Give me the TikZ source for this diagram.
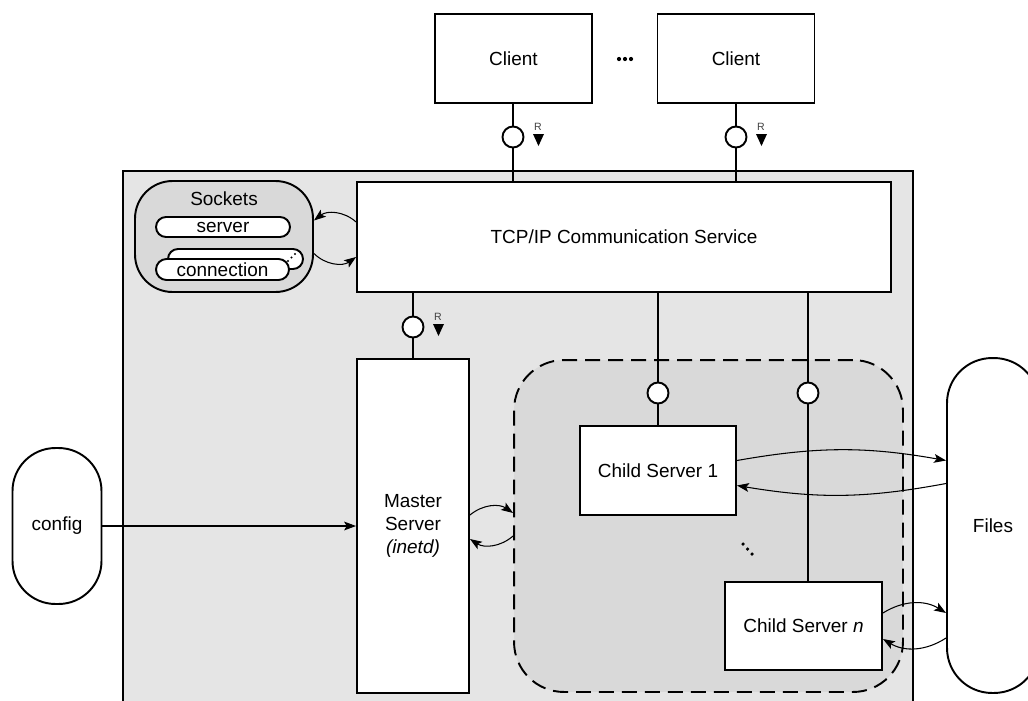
\documentclass[tikz,border=0pt]{standalone}
\usepackage{fontspec}
\setmainfont{Liberation Sans}
\usetikzlibrary{arrows.meta,calc}

\tikzset{
  box/.style={draw, line width=1.1pt, fill=white, align=center, inner sep=0pt},
  pill/.style={box, rounded corners=#1},
  iface/.style={draw, circle, line width=1.1pt, fill=white, minimum size=0.42cm, inner sep=0pt},
  wire/.style={line width=0.6pt},
  flow/.style={wire, -{Stealth[length=6.8pt,width=5pt,inset=1.5pt]}},
}

\begin{document}
\begin{tikzpicture}[x=0.02cm, y=-0.02cm, font=\fontsize{10.8}{13}\selectfont]
  \useasboundingbox (0,0) rectangle (1028,700);
  \clip (0,0) rectangle (1028,700);

  % Server frame
  \draw[line width=1.1pt, fill=gray!20] (123,171) rectangle (913,740);

  % Child process group
  \node[draw, line width=1.1pt, dash pattern=on 0.3cm off 0.16cm, fill=gray!30,
        rounded corners=1cm, minimum width=7.78cm, minimum height=6.64cm] (childgrp) at (708.5,526) {};

  % Clients
  \node[box, minimum width=3.14cm, minimum height=1.78cm] (client1) at (513.5,58.5) {Client};
  \node[box, minimum width=3.14cm, minimum height=1.78cm] (client2) at (736,58.5) {Client};
  \foreach \x in {619,625,631}
    \fill (\x,59) circle (1.2pt);

  % Communication service
  \node[box, minimum width=10.68cm, minimum height=2.2cm] (tcp) at (624,237) {TCP/IP Communication Service};

  % Sockets
  \node[draw, line width=1.1pt, fill=gray!30, rounded corners=0.75cm,
        minimum width=3.56cm, minimum height=2.22cm] (sockets) at (224,236.5) {};
  \node (socklbl) at (224,199) {Sockets};
  \node[pill=0.2cm, minimum width=2.68cm, minimum height=0.4cm] (srvsock) at (223,227) {server};
  \node[pill=0.2cm, minimum width=2.7cm, minimum height=0.4cm] (connback) at (235.5,259) {};
  \fill (288,261) circle (0.6pt) (291.5,257.5) circle (0.6pt) (295,254) circle (0.6pt);
  \node[pill=0.21cm, minimum width=2.66cm, minimum height=0.42cm] (connsock) at (222.5,269.5) {connection};

  % Master server and config
  \node[box, minimum width=2.24cm, minimum height=6.68cm] (master) at (413,526) {Master\\Server\\\textit{(inetd)}};
  \node[pill=0.86cm, minimum width=1.78cm, minimum height=3.12cm] (config) at (57,526) {config};

  % Child servers and files
  \node[box, minimum width=3.12cm, minimum height=1.78cm] (child1) at (658,470.5) {Child Server 1};
  \node[box, minimum width=3.14cm, minimum height=1.76cm] (childn) at (803.5,626) {Child Server \textit{n}};
  \node[pill=0.9cm, minimum width=1.84cm, minimum height=6.7cm] (files) at (993,525.5) {Files};
  \fill (743,544) circle (1pt) (747.5,549) circle (1pt) (752,554) circle (1pt);

  % Interfaces
  \node[iface] (ic1) at (513,137) {};
  \node[iface] (ic2) at (736,137) {};
  \node[iface] (icm) at (413,327) {};
  \node[iface] (ic3) at (658,393) {};
  \node[iface] (ic4) at (808,393) {};
  \foreach \c in {ic1,ic2,icm} {
    \node[font=\fontsize{6}{7}\selectfont, text=black!75] (rlbl-\c) at ($(\c)+(25,-10)$) {R};
    \fill ($(\c)+(20,-3)$) -- ++(11,0) -- ++(-5.5,12) -- cycle;
  }

  % Links
  \draw[wire] (ic1 |- client1.south) -- (ic1) -- (ic1 |- tcp.north);
  \draw[wire] (ic2 |- client2.south) -- (ic2) -- (ic2 |- tcp.north);
  \draw[wire] (icm |- tcp.south) -- (icm) -- (master);
  \draw[wire] (ic3 |- tcp.south) -- (ic3) -- (child1);
  \draw[wire] (ic4 |- tcp.south) -- (ic4) -- (ic4 |- childn.north);

  % Data flow
  \draw[flow] (config) -- (master);
  \draw[flow] ($(tcp.west)+(0,-15)$) to[bend right=40] ($(sockets.east)+(0,-16)$);
  \draw[flow] ($(sockets.east)+(0,17)$) to[bend right=40] ($(tcp.west)+(0,20)$);
  \draw[flow] ($(master.east)+(0,-11)$) to[bend left=37] ($(childgrp.west)+(0,-13)$);
  \draw[flow] ($(childgrp.west)+(0,10)$) to[bend left=37] ($(master.east)+(0,13)$);
  \draw[flow] ($(child1.east)+(0,-10)$) to[bend left=10] ($(files.west)+(0,-65)$);
  \draw[flow] ($(files.west)+(0,-42)$) to[bend left=10] ($(child1.east)+(0,15)$);
  \draw[flow] ($(childn.east)+(0,-13)$) to[bend left=32] ($(files.west)+(0,87.5)$);
  \draw[flow] ($(files.west)+(0,112.5)$) to[bend left=32] ($(childn.east)+(0,13)$);
\end{tikzpicture}
\end{document}
